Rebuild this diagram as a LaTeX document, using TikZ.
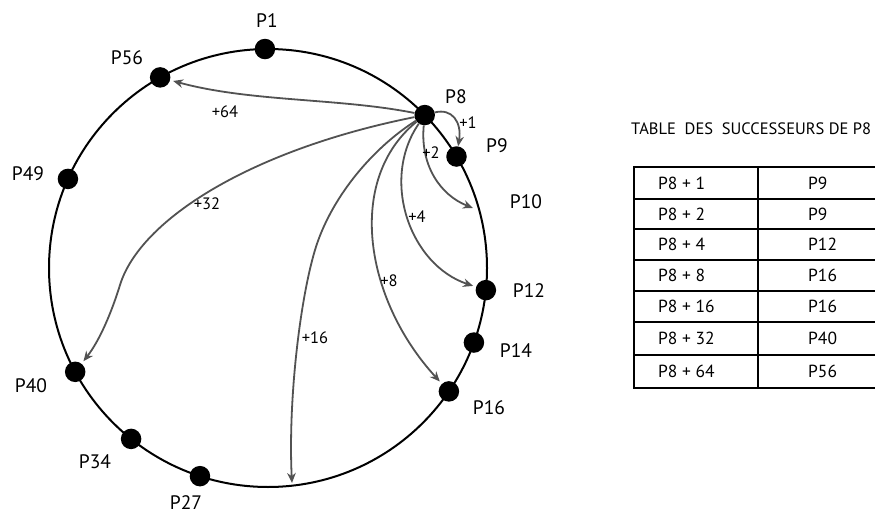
\documentclass[tikz,border=0pt]{standalone}
\usepackage{fontspec}
\setmainfont{PT Sans}
\usetikzlibrary{arrows.meta,calc}
\begin{document}
\begin{tikzpicture}[x=1pt,y=-1pt,
  dot/.style={circle,fill=black,inner sep=0pt,minimum size=20.5pt},
  lab/.style={font=\fontsize{19.5}{19.5}\selectfont,inner sep=0pt},
  hop/.style={font=\fontsize{16.5}{16.5}\selectfont,inner sep=0pt},
  cell/.style={font=\fontsize{17.5}{17.5}\selectfont,inner sep=0pt,anchor=west},
  link/.style={draw=black!68,line width=1.8pt,-{Stealth[length=10pt,width=8.5pt]},shorten >=3pt},
  ring/.style={line width=2pt},
  grid/.style={line width=2pt}]
\clip (0,0) rectangle (875,516);
\fill[white] (0,0) rectangle (875,516);
\coordinate (c) at (268,268);
\draw[ring] (c) circle (219pt);
% peers
\node[dot] (p1)  at ($(c)+(90.8:219pt)$) {};
\node[dot] (p56) at ($(c)+(119.5:219pt)$) {};
\node[dot] (p49) at ($(c)+(156:219pt)$) {};
\node[dot] (p40) at ($(c)+(208.3:219pt)$) {};
\node[dot] (p34) at ($(c)+(231.3:219pt)$) {};
\node[dot] (p27) at ($(c)+(251.9:219pt)$) {};
\node[dot] (p16) at ($(c)+(-34.3:219pt)$) {};
\node[dot] (p14) at ($(c)+(-19.9:219pt)$) {};
\node[dot] (p12) at ($(c)+(-5.8:219pt)$) {};
\node[dot] (p9)  at ($(c)+(30.6:219pt)$) {};
\node[dot] (p8)  at ($(c)+(44.3:219pt)$) {};
\coordinate (p10) at (473,208);
\coordinate (t16) at (292,483);
% labels
\node[lab] (l1)  at (267,21) {P1};
\node[lab] (l56) at (127,58) {P56};
\node[lab] (l8)  at (456,97) {P8};
\node[lab] (l9)  at (497,146) {P9};
\node[lab] (l49) at (28,174) {P49};
\node[lab] (l10) at (526,202) {P10};
\node[lab] (l12) at (529,291) {P12};
\node[lab] (l14) at (516,351) {P14};
\node[lab] (l40) at (31,386) {P40};
\node[lab] (l16) at (489,408) {P16};
\node[lab] (l34) at (95,462) {P34};
\node[lab] (l27) at (186,503) {P27};
% fingers
\draw[link] (p8) .. controls (340,98) and (250,102) .. (p56);
\draw[link] (p8) .. controls (250,150) and (140,220) .. (120,285) .. controls (112,311) and (100,340) .. (p40);
\draw[link,shorten >=0pt] (p8) .. controls (370,150) and (330,200) .. (315,250) .. controls (300,300) and (288,400) .. (t16);
\draw[link] (p8) .. controls (345,180) and (365,300) .. (p16);
\draw[link] (p8) .. controls (380,180) and (410,265) .. (p12);
\draw[link,shorten >=0pt] (p8) .. controls (420,165) and (440,195) .. (p10);
\draw[link,shorten >=0pt] (p8) .. controls (452,108) and (462,122) .. (p9);
\node[hop] (h64) at (225,112) {+64};
\node[hop] (h32) at (207,204) {+32};
\node[hop] (h16) at (315,338) {+16};
\node[hop] (h8)  at (389,281) {+8};
\node[hop] (h4)  at (417,217) {+4};
\node[hop] (h2)  at (431,153) {+2};
\node[hop] (h1)  at (468,123) {+1};
% table
\node[anchor=west,inner sep=0pt,font=\fontsize{16.5}{16.5}\selectfont] (title) at (631,129) {TABLE\ \ DES\ \ SUCCESSEURS DE P8};
\draw[grid] (634,167) rectangle (890,388);
\draw[grid] (758,167) -- (758,388);
\foreach \y in {199,229,259.5,291,322,355} \draw[grid] (634,\y) -- (890,\y);
\node[cell] (a1) at (658,183) {P8 + 1};   \node[cell] (b1) at (808,183) {P9};
\node[cell] (a2) at (658,214) {P8 + 2};   \node[cell] (b2) at (808,214) {P9};
\node[cell] (a3) at (658,244) {P8 + 4};   \node[cell] (b3) at (808,244) {P12};
\node[cell] (a4) at (658,275) {P8 + 8};   \node[cell] (b4) at (808,275) {P16};
\node[cell] (a5) at (658,306.5) {P8 + 16};  \node[cell] (b5) at (808,306.5) {P16};
\node[cell] (a6) at (658,338.5) {P8 + 32};  \node[cell] (b6) at (808,338.5) {P40};
\node[cell] (a7) at (658,371) {P8 + 64};  \node[cell] (b7) at (808,371) {P56};
\end{tikzpicture}
\end{document}
